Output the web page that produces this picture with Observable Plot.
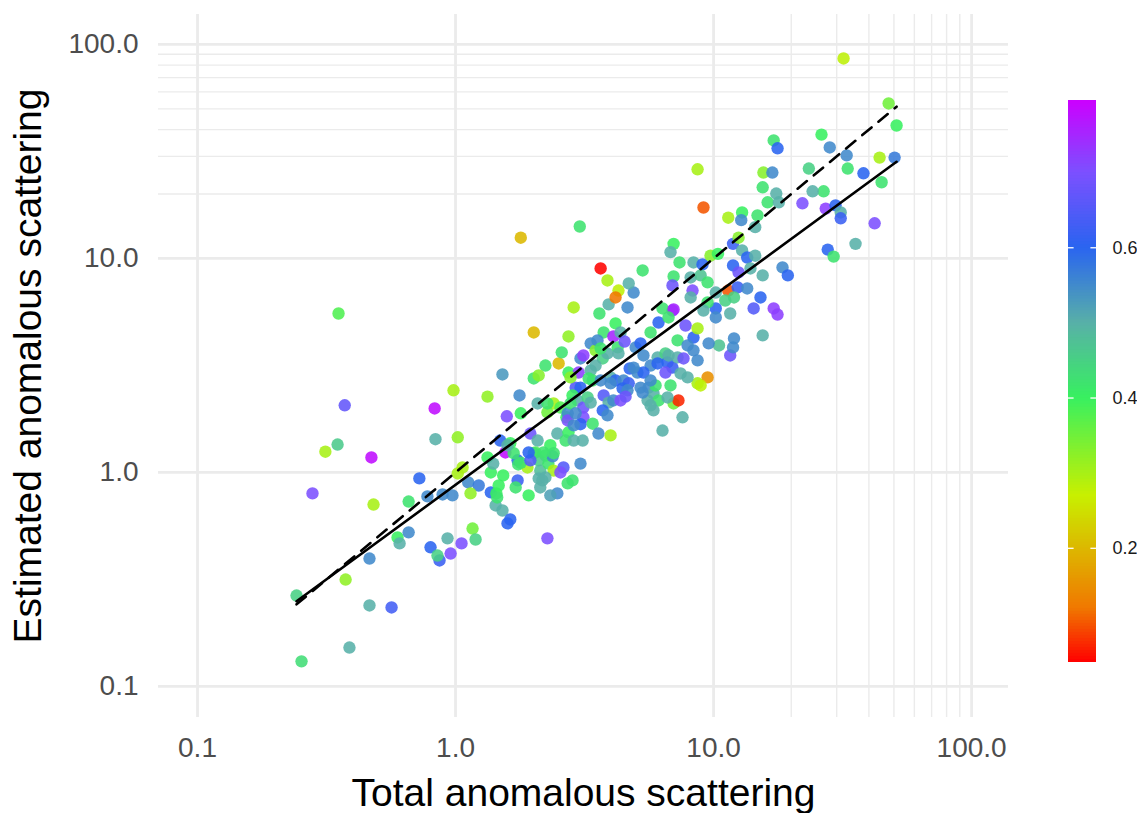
<!DOCTYPE html>
<html>
<head>
<meta charset="utf-8">
<script src="https://cdn.jsdelivr.net/npm/d3@7"></script>
<script src="https://cdn.jsdelivr.net/npm/@observablehq/plot@0.6"></script>
<style>
  html, body { margin: 0; padding: 0; background: white; }
  #wrap { position: relative; width: 1137px; height: 813px; }
  #legend { position: absolute; left: 1040px; top: 0; }
</style>
</head>
<body>
<div id="wrap"><div id="main"></div><div id="legend"></div></div>
<script>
// ---- data ----
const xs = [
0.242,0.253,0.279,0.313,0.349,0.352,0.372,0.375,0.388,0.464,0.565,0.464,0.472,0.481,0.596,0.607,0.658,0.658,0.724,0.778,
0.800,0.867,0.851,0.830,0.836,0.891,0.931,0.957,1.055,0.982,1.02,1.02,1.065,1.12,1.23,1.143,1.164,1.196,1.33,1.52,
1.33,1.37,1.37,1.44,1.43,1.77,1.58,1.79,2.08,2.40,2.55,2.27,1.95,2.08,2.48,2.74,2.67,2.87,1.49,1.63,
1.56,1.74,1.75,2.04,2.23,2.33,1.90,2.10,2.13,2.10,2.13,2.29,2.40,2.62,2.84,2.48,1.92,1.74,1.53,1.40,
1.47,1.45,0.973,1.52,2.33,2.92,2.69,
2.87,3.92,4.64,3.61,4.17,3.75,2.74,4.09,4.36,5.70,6.12,6.93,6.34,7.79,7.25,8.36,8.67,7.93,2.23,2.51,
2.58,2.74,3.00,2.79,3.05,3.13,3.34,3.49,3.55,3.72,3.88,4.25,4.52,4.99,5.21,5.35,5.70,6.07,6.51,6.63,
6.93,7.25,7.65,8.36,8.67,6.51,4.73,5.07,5.35,3.34,3.49,3.99,4.17,4.48,4.69,4.44,4.64,3.40,3.65,3.05,
2.84,2.97,3.13,3.25,3.34,3.75,3.92,4.09,4.36,4.56,3.72,3.88,3.13,3.05,5.21,5.60,5.85,5.55,5.96,6.12,
5.85,7.00,7.31,7.58,8.67,7.93,2.27,2.72,2.72,3.40,2.87,4.28,3.28,3.99,5.70,6.81,7.45,6.63,5.70,5.31,
2.79,2.92,3.11,3.58,3.99,6.34,3.05,2.27,1.59,1.63,2.01,2.10,2.01,1.79,3.03,3.65,3.88,4.28,4.17,4.90,
4.69,3.65,6.69,6.07,4.90,
7.00,6.81,7.38,5.31,7.00,6.93,8.36,9.06,9.73,10.4,8.15,8.91,9.48,8.29,8.15,10.2,11.9,12.5,14.5,12.9,
13.5,14.5,11.9,12.5,13.9,15.5,18.5,19.4,11.4,12.4,13.5,12.0,11.1,10.2,11.6,15.2,14.3,17.1,17.7,15.5,
7.00,6.69,9.48,9.14,10.5,12.0,9.57,11.6,11.9,10.2,9.48,8.91,
9.14,11.4,12.9,12.8,14.8,16.2,17.9,22.1,27.2,29.7,31.1,31.1,42.1,35.5,27.7,29.2,31.9,47.7,51.2,26.2,
28.2,32.8,33.1,44.0,50.3,38.1,44.8,23.4,26.7,24.2,17.1,17.7,15.6,16.9,15.5,17.5,8.67,
2.01,2.38,1.79,1.95,2.17,1.71,1.68,1.59,1.92,2.40,2.55,2.23,2.72,2.19
];
const ys = [
0.266,0.131,0.798,1.25,1.35,5.53,2.06,0.316,0.152,0.239,0.234,0.396,1.175,0.708,0.497,0.466,0.525,0.731,0.938,0.773,
0.447,0.388,0.409,1.99,1.43,0.789,0.492,0.418,0.466,2.42,1.46,0.989,1.055,0.898,0.869,0.798,0.547,0.486,2.26,2.87,
1.175,1.0,0.807,0.798,0.701,2.29,1.83,1.89,2.10,2.10,2.01,1.91,1.52,1.41,1.52,1.54,1.41,1.41,1.41,1.37,
1.24,1.14,1.09,1.24,1.20,1.34,1.055,1.14,1.02,0.938,0.851,1.10,1.02,1.055,0.918,0.798,0.781,0.918,0.968,1.10,
0.869,0.764,0.781,0.664,0.781,2.49,1.81,
5.90,6.10,5.90,5.53,4.97,4.51,4.32,4.32,4.51,4.51,5.02,5.71,5.84,4.86,4.14,4.27,4.71,3.92,3.16,3.23,
3.64,2.93,2.93,2.78,3.41,3.52,4.01,3.72,4.14,3.41,3.60,3.84,4.09,3.84,4.01,3.52,3.16,3.45,3.60,3.27,
3.09,3.45,3.41,3.72,3.34,2.93,3.06,2.93,2.93,3.00,3.16,2.78,2.69,2.69,2.61,2.47,2.42,2.69,2.69,2.49,
2.29,2.17,2.01,2.24,2.12,2.29,2.12,2.17,2.17,2.26,1.95,1.85,1.81,1.68,2.49,2.49,2.34,2.17,2.55,2.17,
1.95,2.10,2.17,1.81,2.61,2.78,2.10,1.89,1.75,1.69,1.66,3.60,2.75,2.61,2.69,2.55,2.90,2.24,2.06,2.36,
2.10,1.89,1.41,1.52,1.49,1.57,1.10,0.492,0.578,0.603,2.75,2.84,4.51,12.5,14.1,8.98,7.89,7.08,6.57,6.93,
7.64,3.80,3.52,3.23,3.09,
11.7,10.7,9.58,8.79,8.24,7.48,9.58,9.38,10.3,10.5,8.15,8.33,7.73,7.08,6.57,6.93,11.7,12.5,14.0,10.9,
10.1,10.3,9.27,8.60,8.98,8.33,9.08,8.33,7.08,7.32,7.24,6.57,6.36,5.84,5.53,6.57,5.84,5.84,5.47,4.37,
5.78,5.30,6.23,5.71,3.92,4.23,4.01,3.52,3.84,5.30,2.78,2.55,
17.3,15.5,16.4,15.1,15.9,18.3,18.3,18.1,17.1,17.7,16.4,15.4,14.6,11.7,11.0,10.2,86.0,53.0,41.8,37.9,
33.0,30.3,26.3,29.6,29.6,25.0,22.7,26.3,20.6,20.6,35.6,32.7,25.2,25.2,21.5,20.1,26.1,
1.23,1.19,1.11,1.14,0.918,0.851,1.23,1.34,1.24,1.23,1.00,0.948,0.889,1.24
];
const cs = [
0.45,0.43,0.70,0.30,0.46,0.38,0.67,0.32,0.50,0.50,0.63,0.55,0.78,0.30,0.40,0.50,0.55,0.42,0.60,0.55,
0.60,0.62,0.45,0.78,0.50,0.55,0.50,0.70,0.70,0.30,0.32,0.30,0.30,0.55,0.57,0.32,0.35,0.45,0.32,0.53,
0.40,0.40,0.60,0.40,0.50,0.55,0.70,0.40,0.50,0.30,0.38,0.35,0.68,0.50,0.50,0.40,0.42,0.50,0.60,0.40,
0.78,0.60,0.42,0.38,0.40,0.40,0.30,0.45,0.48,0.50,0.50,0.42,0.30,0.65,0.42,0.55,0.40,0.62,0.40,0.50,
0.40,0.42,0.55,0.50,0.52,0.65,0.40,
0.30,0.50,0.55,0.42,0.40,0.42,0.32,0.75,0.50,0.42,0.60,0.72,0.42,0.68,0.42,0.60,0.30,0.55,0.42,0.20,
0.42,0.40,0.72,0.33,0.55,0.72,0.55,0.33,0.55,0.45,0.50,0.42,0.68,0.55,0.60,0.55,0.55,0.50,0.45,0.60,
0.62,0.50,0.68,0.55,0.55,0.68,0.60,0.55,0.60,0.50,0.50,0.50,0.60,0.55,0.62,0.60,0.55,0.42,0.55,0.60,
0.40,0.50,0.68,0.45,0.50,0.65,0.50,0.55,0.70,0.68,0.60,0.55,0.70,0.60,0.55,0.55,0.50,0.50,0.42,0.42,
0.50,0.35,0.07,0.50,0.30,0.50,0.42,0.55,0.70,0.42,0.55,0.50,0.42,0.55,0.55,0.42,0.50,0.50,0.50,0.55,
0.42,0.55,0.50,0.55,0.30,0.50,0.55,0.70,0.60,0.60,0.42,0.33,0.20,0.20,0.42,0.05,0.30,0.28,0.12,0.55,
0.50,0.42,0.50,0.60,0.55,
0.40,0.50,0.42,0.42,0.42,0.68,0.50,0.60,0.33,0.40,0.50,0.47,0.42,0.70,0.50,0.50,0.62,0.33,0.50,0.50,
0.60,0.50,0.60,0.68,0.50,0.50,0.55,0.60,0.10,0.62,0.55,0.45,0.45,0.60,0.50,0.60,0.65,0.72,0.72,0.50,
0.75,0.42,0.42,0.50,0.47,0.55,0.55,0.68,0.55,0.55,0.15,0.28,
0.10,0.30,0.40,0.55,0.42,0.42,0.50,0.70,0.72,0.60,0.50,0.62,0.70,0.50,0.60,0.42,0.28,0.35,0.40,0.40,
0.55,0.55,0.42,0.30,0.57,0.60,0.42,0.45,0.42,0.50,0.42,0.60,0.33,0.55,0.42,0.50,0.30,
0.42,0.55,0.42,0.65,0.50,0.42,0.42,0.50,0.60,0.42,0.70,0.50,0.42,0.42
];

// fitted (solid) line and identity (dashed) line endpoints
const fitX = [0.242, 51.2];
const fitY = [0.25, 28.3];
const idX = [0.242, 51.2];
const idY = [0.242, 51.2];

// ticks and grid
const xMajor = [0.1, 1, 10, 100];
const xTickLabels = ["0.1", "1.0", "10.0", "100.0"];
const yMajor = [0.1, 1, 10, 100];
const yTickLabels = ["0.1", "1.0", "10.0", "100.0"];
const xMinor = [20, 30, 40, 50, 60, 70, 80, 90];
const yMinor = [20, 30, 40, 50, 60, 70, 80, 90];
const legendTicks = [0.2, 0.4, 0.6];
const legendLabels = ["0.2", "0.4", "0.6"];

// colour gradient
const colorStops = [0.048, 0.12, 0.2, 0.27, 0.4, 0.5, 0.6, 0.7, 0.796];
const colorRange = ["#ff0000", "#f07800", "#dcb800", "#c8f000", "#38f060", "#58b0a8", "#2a64f0", "#7c50ff", "#cc00ff"];

const points = xs.map((x, i) => ({x, y: ys[i], c: cs[i]}));
const fitLine = fitX.map((x, i) => ({x, y: fitY[i]}));
const idLine = idX.map((x, i) => ({x, y: idY[i]}));

const font = "'Liberation Sans', Arial, Helvetica, sans-serif";
const colorScale = {type: "linear", domain: colorStops, range: colorRange, interpolate: "rgb"};
const grid = "#ebebeb";

const main = Plot.plot({
  width: 1137, height: 813,
  marginLeft: 158, marginRight: 129, marginTop: 14, marginBottom: 96,
  x: {type: "log", domain: [0.0706, 139], axis: null},
  y: {type: "log", domain: [0.0716, 138], axis: null},
  color: colorScale,
  style: {fontFamily: font, background: "white"},
  marks: [
    Plot.ruleX(xMinor, {stroke: grid, strokeWidth: 1.4}),
    Plot.ruleY(yMinor, {stroke: grid, strokeWidth: 1.4}),
    Plot.ruleX(xMajor, {stroke: grid, strokeWidth: 2.8}),
    Plot.ruleY(yMajor, {stroke: grid, strokeWidth: 2.8}),
    Plot.text(xMajor, {x: d => d, frameAnchor: "bottom", dy: 31, lineAnchor: "middle", textAnchor: "middle", text: (d, i) => xTickLabels[i], fontSize: 28, fill: "#4d4d4d"}),
    Plot.text(yMajor, {y: d => d, frameAnchor: "left", dx: -20, lineAnchor: "middle", textAnchor: "end", text: (d, i) => yTickLabels[i], fontSize: 28, fill: "#4d4d4d"}),
    Plot.text(["Total anomalous scattering"], {frameAnchor: "bottom", dy: 76, lineAnchor: "middle", textAnchor: "middle", fontSize: 39, fill: "black"}),
    Plot.text(["Estimated anomalous scattering"], {frameAnchor: "left", dx: -130, rotate: -90, lineAnchor: "middle", textAnchor: "middle", fontSize: 39, fill: "black"}),
    Plot.dot(points, {x: "x", y: "y", fill: "c", r: 6.2, fillOpacity: 0.88, stroke: "none"}),
    Plot.line(idLine, {x: "x", y: "y", stroke: "black", strokeWidth: 2.6, strokeDasharray: "12,9"}),
    Plot.line(fitLine, {x: "x", y: "y", stroke: "black", strokeWidth: 2.6})
  ]
});
document.getElementById("main").appendChild(main);

// colour bar legend
const step = 0.004;
const stripes = d3.range(colorStops[0], colorStops[colorStops.length - 1], step);
const legend = Plot.plot({
  width: 97, height: 813,
  marginLeft: 28, marginRight: 41, marginTop: 100, marginBottom: 151,
  x: {domain: [0, 1], axis: null},
  y: {domain: [0.048, 0.796], axis: null},
  color: colorScale,
  style: {fontFamily: font, background: "transparent", overflow: "visible"},
  marks: [
    Plot.rect(stripes, {x1: 0, x2: 1, y1: d => d, y2: d => Math.min(d + step * 1.6, 0.796), fill: d => d + step / 2}),
    Plot.ruleY(legendTicks, {x1: 0, x2: 0.2, stroke: "white", strokeWidth: 1.3}),
    Plot.ruleY(legendTicks, {x1: 0.8, x2: 1, stroke: "white", strokeWidth: 1.3}),
    Plot.text(legendTicks, {y: d => d, x: 1, dx: 16, textAnchor: "start", lineAnchor: "middle", text: (d, i) => legendLabels[i], fontSize: 18, fill: "#1a1a1a"})
  ]
});
document.getElementById("legend").appendChild(legend);
</script>
</body>
</html>
